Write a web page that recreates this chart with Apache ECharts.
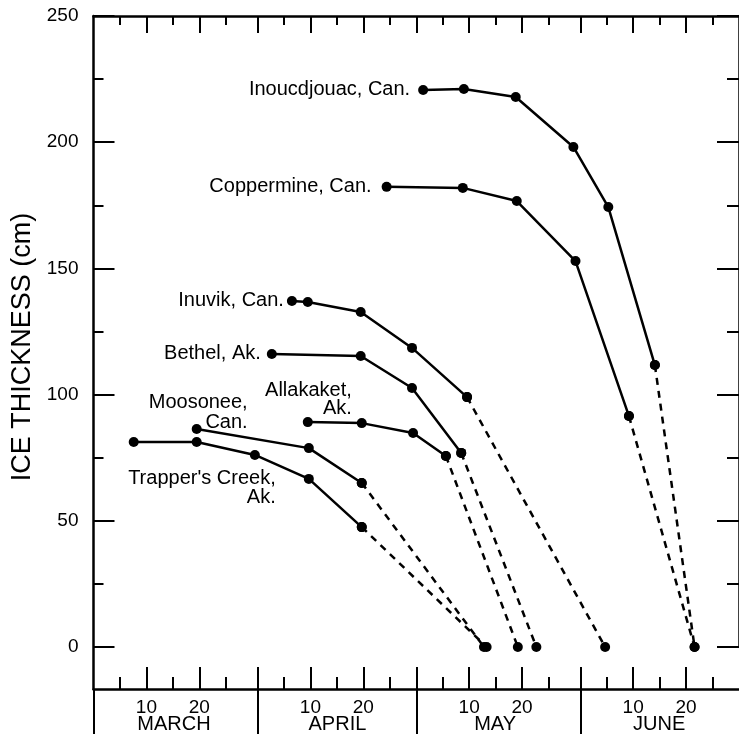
<!DOCTYPE html>
<html>
<head>
<meta charset="utf-8">
<script src="https://cdn.jsdelivr.net/npm/echarts@6/dist/echarts.min.js"></script>
<style>
html,body{margin:0;padding:0;background:#fff;}
#chart{width:739px;height:734px;}
</style>
</head>
<body>
<div id="chart"></div>
<script>
// x values: days counted from the end of February (March 1 = 1, April 1 = 32, May 1 = 62, June 1 = 93)
const monthNames = ['MARCH', 'APRIL', 'MAY', 'JUNE'];
const monthStarts = [0, 31, 61, 92];
const monthLabelAt = [15.2, 46.1, 75.9, 106.9];
const dayTickLabels = [10, 20];
const dayMinorTicks = [5, 15, 25];
const yTickLabels = [0, 50, 100, 150, 200, 250];

const inoucdjouacDay = [62.3, 70.0, 79.8, 90.7, 97.3, 106.1, 113.6];
const inoucdjouacIce = [220.7, 221.1, 217.9, 198.1, 174.3, 111.7, 0];

const coppermineDay = [55.4, 69.8, 80.0, 91.1, 101.2, 113.6];
const coppermineIce = [182.3, 181.9, 176.7, 152.9, 91.5, 0];

const inuvikDay = [37.5, 40.5, 50.5, 60.2, 70.6, 96.7];
const inuvikIce = [137.1, 136.7, 132.7, 118.5, 99.0, 0];

const bethelDay = [33.7, 50.5, 60.2, 69.5, 83.7];
const bethelIce = [116.1, 115.3, 102.6, 76.9, 0];

const allakaketDay = [40.5, 50.7, 60.4, 66.6, 80.2];
const allakaketIce = [89.1, 88.7, 84.8, 75.7, 0];

const mooseneeDay = [19.5, 40.7, 50.7, 73.8];
const mooseneeIce = [86.4, 78.8, 65.0, 0];

const trappersDay = [7.6, 19.5, 30.5, 40.7, 50.7, 74.3];
const trappersIce = [81.2, 81.2, 76.1, 66.6, 47.5, 0];

const FONT = '"Liberation Sans", Arial, Helvetica, sans-serif';
const INK = '#000';

const stations = [
  { name: 'Inoucdjouac, Can.', day: inoucdjouacDay, ice: inoucdjouacIce, label: { position: 'left', distance: 8 } },
  { name: 'Coppermine, Can.', day: coppermineDay, ice: coppermineIce, label: { position: 'left', distance: 10 } },
  { name: 'Inuvik, Can.', day: inuvikDay, ice: inuvikIce, label: { position: 'left', distance: 3 } },
  { name: 'Bethel, Ak.', day: bethelDay, ice: bethelIce, label: { position: 'left', distance: 6 } },
  { name: 'Allakaket,\nAk.', day: allakaketDay, ice: allakaketIce, label: { position: 'left', distance: 5, offset: [54, -23], lineHeight: 18 } },
  { name: 'Moosonee,\nCan.', day: mooseneeDay, ice: mooseneeIce, label: { position: 'left', distance: 5, offset: [61, -16], lineHeight: 20 } },
  { name: "Trapper's Creek,\nAk.", day: trappersDay, ice: trappersIce, label: { position: 'left', distance: 5, offset: [152, 46], lineHeight: 19 } }
];

const series = [];
stations.forEach(function (st) {
  const n = st.day.length;
  const pts = st.day.map(function (d, i) { return [d, st.ice[i]]; });
  series.push({
    type: 'line', xAxisIndex: 0, yAxisIndex: 0, clip: false,
    data: pts.slice(0, n - 1),
    symbol: 'circle', symbolSize: 10,
    itemStyle: { color: INK },
    lineStyle: { color: INK, width: 2.5 },
    label: Object.assign({
      show: true, color: INK, fontFamily: FONT, fontSize: 20, align: 'right',
      formatter: function (p) { return p.dataIndex === 0 ? st.name : ''; }
    }, st.label),
    emphasis: { disabled: true }, animation: false, z: 5
  });
  series.push({
    type: 'line', xAxisIndex: 0, yAxisIndex: 0, clip: false,
    data: pts.slice(n - 2),
    symbol: 'circle', symbolSize: 10, showSymbol: true,
    itemStyle: { color: INK },
    lineStyle: { color: INK, width: 2.5, type: [7, 6] },
    emphasis: { disabled: true }, animation: false, z: 4
  });
});

const longTicks = [];
const shortTicks = [];
const dayLabelValues = [];
monthStarts.forEach(function (s, i) {
  if (s > 0) longTicks.push(s);
  dayTickLabels.forEach(function (d) { longTicks.push(s + d); dayLabelValues.push(s + d); });
  dayMinorTicks.forEach(function (d) { shortTicks.push(s + d); });
});

function dayLabel(v) {
  let start = 0;
  monthStarts.forEach(function (s) { if (v > s) start = s; });
  return String(Math.round(v - start));
}
function monthLabel(v) {
  const i = monthLabelAt.indexOf(v);
  return i >= 0 ? monthNames[i] : '';
}

const lineStyle = { color: INK, width: 2 };
const hidden = { show: false };

const option = {
  backgroundColor: '#fff',
  animation: false,
  grid: [
    { left: 93.5, top: 16, width: 649, height: 631 },
    { left: 93.5, top: 16, width: 649, height: 674 }
  ],
  xAxis: [
    { gridIndex: 0, type: 'value', min: 0, max: 122, show: false },
    { gridIndex: 1, type: 'value', min: 0, max: 122, position: 'bottom',
      axisLine: { show: true, onZero: false, lineStyle: { color: INK, width: 2.5 } },
      axisTick: { show: true, inside: true, length: 22, customValues: longTicks, lineStyle: lineStyle },
      axisLabel: { show: true, customValues: dayLabelValues, formatter: dayLabel, margin: 9,
        color: INK, fontFamily: FONT, fontSize: 19 },
      splitLine: hidden },
    { gridIndex: 1, type: 'value', min: 0, max: 122, position: 'bottom',
      axisLine: { show: false, onZero: false },
      axisTick: { show: true, inside: true, length: 12, customValues: shortTicks, lineStyle: lineStyle },
      axisLabel: { show: true, customValues: monthLabelAt, formatter: monthLabel, margin: 25,
        color: INK, fontFamily: FONT, fontSize: 20 },
      splitLine: hidden },
    { gridIndex: 1, type: 'value', min: 0, max: 122, position: 'bottom',
      axisLine: { show: false, onZero: false },
      axisTick: { show: true, inside: false, length: 46, customValues: monthStarts, lineStyle: lineStyle },
      axisLabel: hidden, splitLine: hidden },
    { gridIndex: 1, type: 'value', min: 0, max: 122, position: 'top',
      axisLine: { show: true, onZero: false, lineStyle: { color: INK, width: 2.5 } },
      axisTick: { show: true, inside: true, length: 17, customValues: longTicks, lineStyle: lineStyle },
      axisLabel: hidden, splitLine: hidden },
    { gridIndex: 1, type: 'value', min: 0, max: 122, position: 'top',
      axisLine: { show: false, onZero: false },
      axisTick: { show: true, inside: true, length: 9, customValues: shortTicks, lineStyle: lineStyle },
      axisLabel: hidden, splitLine: hidden }
  ],
  yAxis: [
    { gridIndex: 0, type: 'value', min: 0, max: 250, interval: 50, position: 'left',
      axisLine: { show: false, onZero: false },
      axisTick: { show: true, inside: true, length: 21, lineStyle: lineStyle },
      minorTick: { show: true, splitNumber: 2, length: 10, lineStyle: lineStyle },
      axisLabel: { show: true, margin: 15, color: INK, fontFamily: FONT, fontSize: 19,
        formatter: function (v) { return yTickLabels.indexOf(v) >= 0 ? String(v) : ''; } },
      splitLine: hidden, minorSplitLine: hidden,
      name: 'ICE THICKNESS (cm)', nameLocation: 'middle', nameRotate: 90, nameGap: 52,
      nameTextStyle: { color: INK, fontFamily: FONT, fontSize: 27, padding: [0, 31, 0, 0] } },
    { gridIndex: 0, type: 'value', min: 0, max: 250, interval: 50, position: 'right',
      axisLine: { show: true, onZero: false, lineStyle: { color: INK, width: 2.5 } },
      axisTick: { show: true, inside: true, length: 22, lineStyle: lineStyle },
      minorTick: { show: true, splitNumber: 2, length: 12, lineStyle: lineStyle },
      axisLabel: hidden, splitLine: hidden, minorSplitLine: hidden },
    { gridIndex: 1, type: 'value', min: 0, max: 1, position: 'left',
      axisLine: { show: true, onZero: false, lineStyle: { color: INK, width: 2.5 } },
      axisTick: hidden, axisLabel: hidden, splitLine: hidden }
  ],
  series: series
};

const chart = echarts.init(document.getElementById('chart'), null, { renderer: 'canvas' });
chart.setOption(option);
</script>
</body>
</html>
